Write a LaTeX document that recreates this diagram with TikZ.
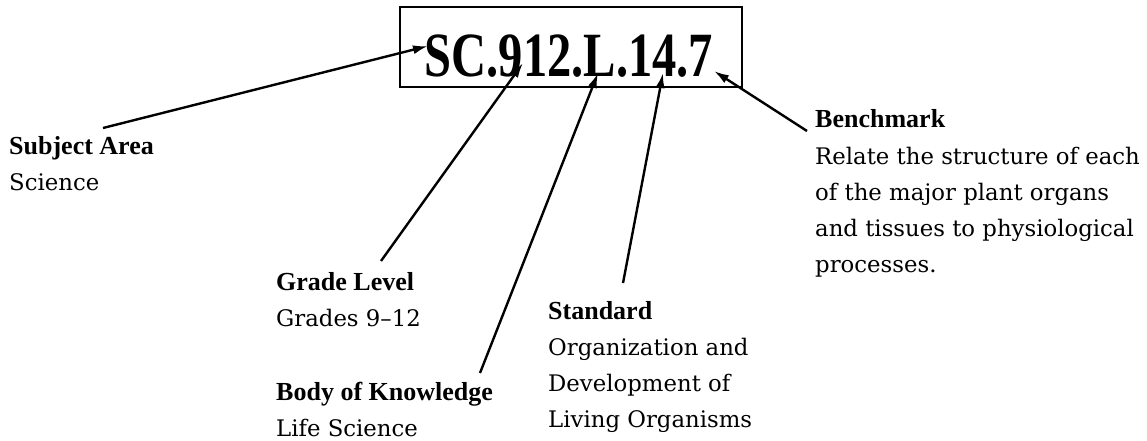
\documentclass[tikz,border=0pt]{standalone}
\usepackage{fontspec}
\setmainfont{DejaVu Serif}
\newfontfamily\codefont{Liberation Serif}
\usetikzlibrary{arrows.meta, positioning}

% header in bold, then the lines under it
\newcommand{\infobox}[2]{%
    \begin{tabular}[t]{@{}l@{}}
        {\codefont\bfseries\fontsize{26}{36}\selectfont #1}\\
        #2
    \end{tabular}}

\begin{document}
\begin{tikzpicture}[
    x=1pt, y=-1pt,
    codebox/.style={
        draw,
        line width=2.2pt,
        minimum width=342pt,
        minimum height=80pt
    },
    codetext/.style={
        anchor=base,
        inner sep=0pt,
        font=\codefont\fontsize{63}{63}\selectfont\bfseries
    },
    info/.style={
        anchor=base west,
        inner sep=0pt,
        font=\fontsize{22.8}{36}\selectfont
    },
    pointer/.style={
        -{Latex[length=15pt,width=9pt]},
        line width=2.4pt
    }
]

    \useasboundingbox (0,0) rectangle (1147,441);

    % Code in its frame
    \node[codebox] (box) at (571,47) {};
    \node[codetext] (code) at (569,77) {\scalebox{0.77}[1]{SC.912.L.14.7}};

    % Points on the code
    \coordinate (subj-tip)  at (428,46);
    \coordinate (grade-tip) at (523,63);
    \coordinate (body-tip)  at (598,73);
    \coordinate (std-tip)   at (663,73);
    \coordinate (bench-tip) at (714,71);

    % Labels
    \node[info] (subj) at (9,154) {\infobox{Subject Area}{Science}};
    \node[info] (grade) at (276,290) {\infobox{Grade Level}{Grades 9--12}};
    \node[info] (body) at (276,400) {\infobox{Body of Knowledge}{Life Science}};
    \node[info] (std) at (548,319) {\infobox{Standard}{Organization and\\Development of\\Living Organisms}};
    \node[info] (bench) at (815,128) {\infobox{Benchmark}{Relate the structure of each\\of the major plant organs\\and tissues to physiological\\processes.}};

    % Pointers
    \draw[pointer] ([shift={(94,-26)}]subj.base west) -- (subj-tip);
    \draw[pointer] ([shift={(105,-29)}]grade.base west) -- (grade-tip);
    \draw[pointer] ([shift={(204,-27)}]body.base west) -- (body-tip);
    \draw[pointer] ([shift={(75,-36)}]std.base west) -- (std-tip);
    \draw[pointer] ([shift={(-8,3)}]bench.base west) -- (bench-tip);

\end{tikzpicture}
\end{document}
